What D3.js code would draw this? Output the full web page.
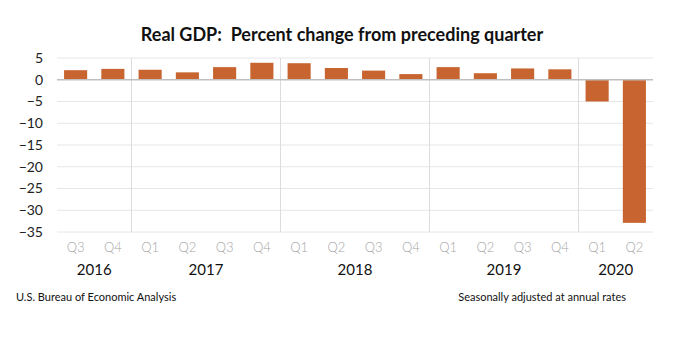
<!DOCTYPE html>
<html>
<head>
<meta charset="utf-8">
<script src="https://cdn.jsdelivr.net/npm/d3@7"></script>
<style>
  body { margin: 0; background: #fff; }
  text { font-family: Lato, "Open Sans", sans-serif; }
</style>
</head>
<body>
<div id="chart"></div>
<script>
// quarterly data, percent change at annual rate
var quarters = ["Q3","Q4","Q1","Q2","Q3","Q4","Q1","Q2","Q3","Q4","Q1","Q2","Q3","Q4","Q1","Q2"];
var years = ["2016","2016","2017","2017","2017","2017","2018","2018","2018","2018","2019","2019","2019","2019","2020","2020"];
var values = [2.2, 2.5, 2.3, 1.7, 2.9, 3.9, 3.8, 2.7, 2.1, 1.3, 2.9, 1.5, 2.6, 2.4, -5.0, -32.9];
var yTicks = [5, 0, -5, -10, -15, -20, -25, -30, -35];

var W = 680, H = 341;
var plotLeft = 57, plotRight = 653, plotTop = 58, plotBottom = 232;

var keys = values.map(function(d, i) { return i; });

var x = d3.scaleBand().domain(keys).range([plotLeft, plotRight]).paddingInner(0.38).paddingOuter(0.19);
var y = d3.scaleLinear().domain([-35, 5]).range([plotBottom, plotTop]);

var svg = d3.select("#chart").append("svg")
    .attr("width", W)
    .attr("height", H);

// gridlines
svg.append("g")
  .selectAll("line")
  .data(yTicks.filter(function(t) { return t !== 0; }))
  .enter().append("line")
    .attr("x1", plotLeft).attr("x2", plotRight)
    .attr("y1", function(d) { return y(d); })
    .attr("y2", function(d) { return y(d); })
    .attr("stroke", "#e6e6e6")
    .attr("stroke-width", 1);

// year separators
var step = x.step();
var yearGroups = d3.groups(keys, function(i) { return years[i]; });
var seps = yearGroups.slice(1).map(function(g) { return g[1][0]; });
svg.append("g")
  .selectAll("line")
  .data(seps)
  .enter().append("line")
    .attr("x1", function(i) { return x(i) - step * x.paddingInner() / 2; })
    .attr("x2", function(i) { return x(i) - step * x.paddingInner() / 2; })
    .attr("y1", plotTop).attr("y2", plotBottom)
    .attr("stroke", "#dcdcdc")
    .attr("stroke-width", 1);

// bars
svg.append("g")
  .selectAll("rect")
  .data(values)
  .enter().append("rect")
    .attr("x", function(d, i) { return x(i); })
    .attr("width", x.bandwidth())
    .attr("y", function(d) { return y(Math.max(0, d)); })
    .attr("height", function(d) { return Math.abs(y(d) - y(0)); })
    .attr("fill", "#c8642f");

// zero line
svg.append("line")
    .attr("x1", plotLeft).attr("x2", plotRight)
    .attr("y1", y(0)).attr("y2", y(0))
    .attr("stroke", "#bfbfbf")
    .attr("stroke-width", 1.5);

// y axis labels
var yAxis = d3.axisLeft(y).tickValues(yTicks).tickSize(0).tickPadding(0);
var ya = svg.append("g")
    .attr("transform", "translate(" + (plotLeft - 14) + ",0)")
    .call(yAxis);
ya.select(".domain").remove();
ya.selectAll("text")
    .attr("font-size", 14)
    .attr("fill", "#222")
    .style("font-family", "Lato, 'Open Sans', sans-serif");

// quarter labels
var xAxis = d3.axisBottom(x).tickSize(0).tickPadding(0).tickFormat(function(i) { return quarters[i]; });
var xa = svg.append("g")
    .attr("transform", "translate(0," + 243 + ")")
    .call(xAxis);
xa.select(".domain").remove();
xa.selectAll("text")
    .attr("font-size", 13)
    .attr("fill", "#a6a6a6")
    .attr("font-weight", 300)
    .style("font-family", "Lato, 'Open Sans', sans-serif");

// year labels
svg.append("g")
  .selectAll("text")
  .data(yearGroups)
  .enter().append("text")
    .attr("x", function(g) {
      var a = g[1][0], b = g[1][g[1].length - 1];
      return (x(a) + x(b) + x.bandwidth()) / 2;
    })
    .attr("y", 275)
    .attr("text-anchor", "middle")
    .attr("font-size", 15)
    .attr("fill", "#111")
    .text(function(g) { return g[0]; });

// title
svg.append("text")
    .attr("x", 342)
    .attr("y", 41)
    .attr("text-anchor", "middle")
    .attr("font-size", 18)
    .attr("font-weight", "bold")
    .attr("fill", "#111")
    .style("white-space", "pre")
    .text("Real GDP:  Percent change from preceding quarter");

// footnotes
svg.append("text")
    .attr("x", 16).attr("y", 301)
    .attr("font-size", 11)
    .attr("fill", "#111")
    .text("U.S. Bureau of Economic Analysis");

svg.append("text")
    .attr("x", 626).attr("y", 301)
    .attr("text-anchor", "end")
    .attr("font-size", 11)
    .attr("fill", "#111")
    .text("Seasonally adjusted at annual rates");
</script>
</body>
</html>
